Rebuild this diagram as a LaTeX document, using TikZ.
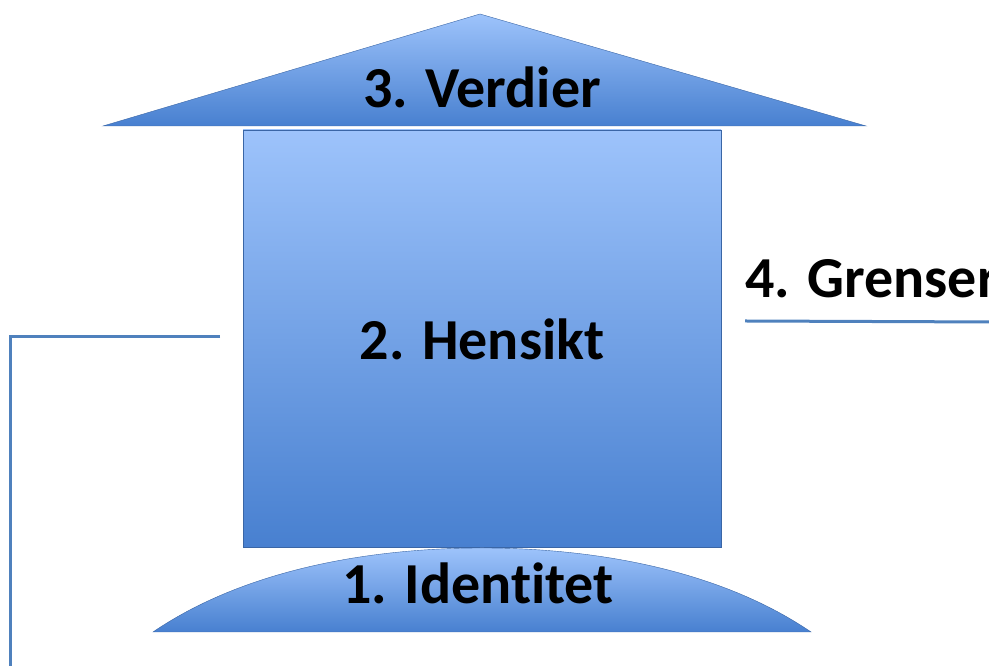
\documentclass[tikz,border=0pt]{standalone}
\usepackage{fontspec}
\setmainfont[Ligatures=NoCommon]{Carlito}
\definecolor{lightblue}{HTML}{9DC3FB}
\definecolor{darkblue}{HTML}{4880D0}
\definecolor{lineblue}{HTML}{4F81BD}

\begin{document}
\begin{tikzpicture}
[x=1pt,y=1pt,
every node/.style={
  font=\fontsize{58}{60}\selectfont\bfseries
},
part/.style={
  top color=lightblue, bottom color=darkblue, draw=darkblue!80!black, line width=.4pt
},
label/.style={
  anchor=base, text=black, inner sep=0pt
},
boundary/.style={
  draw=lineblue, line width=3pt
}
]
\useasboundingbox (0,0) rectangle (989,666);

% Roof
\coordinate (roof left) at (103,540);
\coordinate (roof right) at (866,540);
\coordinate (roof top) at (480,652);
\path[part] (roof left) -- (roof top) -- (roof right) -- cycle;
\node[label] (verdier) at (482,558) {3. Verdier};

% House
\node[part, minimum width=478, minimum height=417, inner sep=0pt] (house) at (482,327.5) {};
\node[label] (hensikt) at (482,306) {2. Hensikt};

% Foundation
\coordinate (base left) at (153,34);
\coordinate (base right) at (811,34);
\path[part] (base left) .. controls (250,100) and (380,118) .. (482,118)
  .. controls (584,118) and (714,100) .. (base right) -- cycle;
\node[label] (identitet) at (478,62) {1. Identitet};

% Borders
\node[label, anchor=base west] (grenser) at (745,368) {4. Grenser};
\coordinate (left end) at (220,329);
\coordinate (left corner) at (10,329);
\coordinate (left foot) at (10,-5);
\coordinate (right end) at (995,344);
\draw[boundary] (left end) -- (left corner) -- (left foot);
\draw[boundary] (grenser.west |- 0,345) -- (right end);

\end{tikzpicture}
\end{document}
